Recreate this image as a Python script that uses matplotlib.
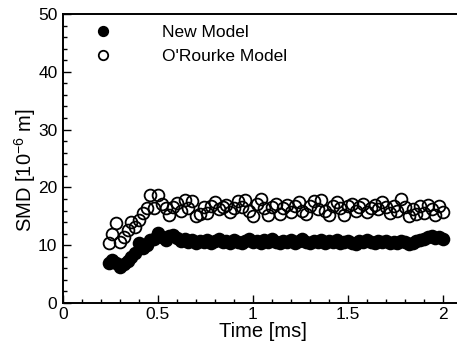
import numpy as np
import matplotlib.pyplot as plt
from matplotlib.ticker import MultipleLocator

plt.rcParams['font.family'] = ['Liberation Sans', 'DejaVu Sans']
plt.rcParams['axes.unicode_minus'] = False

# sample times [ms]
time_ms = [0.24, 0.26, 0.28, 0.30, 0.32, 0.34, 0.36, 0.38, 0.40, 0.42,
           0.44, 0.46, 0.48, 0.50, 0.52, 0.54, 0.56, 0.58, 0.60, 0.62,
           0.64, 0.66, 0.68, 0.70, 0.72, 0.74, 0.76, 0.78, 0.80, 0.82,
           0.84, 0.86, 0.88, 0.90, 0.92, 0.94, 0.96, 0.98, 1.00, 1.02,
           1.04, 1.06, 1.08, 1.10, 1.12, 1.14, 1.16, 1.18, 1.20, 1.22,
           1.24, 1.26, 1.28, 1.30, 1.32, 1.34, 1.36, 1.38, 1.40, 1.42,
           1.44, 1.46, 1.48, 1.50, 1.52, 1.54, 1.56, 1.58, 1.60, 1.62,
           1.64, 1.66, 1.68, 1.70, 1.72, 1.74, 1.76, 1.78, 1.80, 1.82,
           1.84, 1.86, 1.88, 1.90, 1.92, 1.94, 1.96, 1.98, 2.00]

# SMD [1e-6 m], new model
smd_new = [7.0, 7.4, 7.0, 6.2, 6.8, 7.2, 8.0, 8.6, 10.4, 9.6,
           10.0, 10.9, 11.0, 12.1, 11.4, 10.9, 11.6, 11.8, 11.2, 10.8,
           11.0, 10.6, 10.9, 10.4, 10.8, 10.5, 10.9, 10.3, 10.7, 11.0,
           10.5, 10.8, 10.4, 10.9, 10.6, 10.3, 10.8, 11.0, 10.5, 10.7,
           10.4, 10.9, 10.6, 11.0, 10.5, 10.3, 10.8, 10.6, 10.9, 10.4,
           10.7, 11.0, 10.5, 10.3, 10.8, 10.6, 10.9, 10.4, 10.7, 10.5,
           10.9, 10.3, 10.6, 10.8, 10.4, 10.2, 10.7, 10.5, 10.9, 10.6,
           10.4, 10.8, 10.5, 10.7, 10.3, 10.6, 10.4, 10.8, 10.5, 10.2,
           10.4, 10.7, 10.9, 11.1, 11.4, 11.6, 11.2, 11.5, 11.0]

# SMD [1e-6 m], O'Rourke model
smd_orourke = [10.4, 12.0, 13.8, 10.6, 11.5, 12.6, 14.0, 13.2, 14.4, 15.6,
               16.4, 18.7, 16.4, 18.7, 17.2, 16.4, 15.2, 16.6, 17.3, 16.0,
               17.8, 16.5, 17.6, 15.0, 15.4, 16.6, 15.6, 16.8, 17.4, 16.2,
               16.6, 17.0, 15.8, 16.4, 17.6, 16.6, 17.8, 16.0, 15.0, 17.2,
               18.0, 16.4, 15.2, 16.6, 17.2, 15.4, 16.4, 17.0, 15.8, 16.8,
               17.4, 16.0, 15.4, 16.8, 17.6, 16.2, 17.8, 16.0, 15.2, 16.8,
               17.4, 16.4, 15.2, 16.8, 17.2, 16.0, 16.6, 17.2, 15.8, 16.4,
               17.0, 16.2, 17.4, 16.6, 15.6, 16.8, 16.0, 18.0, 16.6, 15.0,
               16.2, 15.4, 16.8, 15.6, 17.0, 16.2, 15.2, 16.8, 15.8]

fig = plt.figure(figsize=(4.57, 3.45), dpi=100)
# axes runs past the right edge of the picture (cropped original)
ax = fig.add_axes([63 / 457, 42 / 345, 418 / 457, 289 / 345])

ax.plot(time_ms, smd_new, 'o', ms=8.5, mfc='black', mec='black', mew=1.3,
        label='New Model')
ax.plot(time_ms, smd_orourke, 'o', ms=8.5, mfc='none', mec='black', mew=1.3,
        label="O'Rourke Model")

ax.set_xlim(0, 2.2)
ax.set_ylim(0, 50)
ax.xaxis.set_minor_locator(MultipleLocator(0.1))
ax.yaxis.set_major_locator(MultipleLocator(10))
ax.yaxis.set_minor_locator(MultipleLocator(2))
ax.set_xticks([0, 0.5, 1, 1.5, 2])
ax.set_xticklabels(['0', '0.5', '1', '1.5', '2'])

ax.tick_params(which='both', direction='in', labelsize=12.5, width=1.0)
ax.tick_params(which='major', length=6)
ax.tick_params(which='minor', length=3)
ax.tick_params(axis='x', pad=3)
ax.tick_params(axis='y', pad=4)
for s in ax.spines.values():
    s.set_linewidth(1.4)

ax.set_xlabel('Time [ms]', fontsize=14.5)
ax.xaxis.set_label_coords(0.478, -0.1)
ax.xaxis.label.set_va('center')
ax.set_ylabel(r'SMD [10$^{\mathregular{-6}}$ m]', fontsize=14.5)
ax.yaxis.set_label_coords(-0.09, 0.46)
ax.yaxis.label.set_va('center')

ax.legend(loc='upper left', bbox_to_anchor=(0.058, 0.985), frameon=False,
          fontsize=12.5, handlelength=1.0, handletextpad=2.9,
          labelspacing=0.5, markerscale=0.8, borderaxespad=0)

fig.savefig('out.png', dpi=100)
